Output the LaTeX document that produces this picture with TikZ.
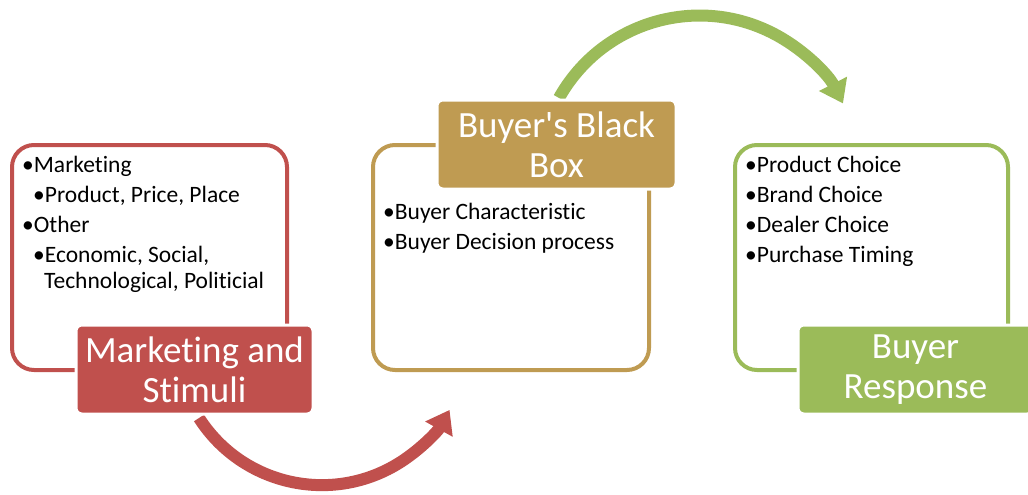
\documentclass[tikz,border=0pt]{standalone}
\usepackage{fontspec}
\setmainfont{Carlito}[Ligatures={CommonOff,TeXOff}]
\usetikzlibrary{arrows.meta}
\definecolor{stimred}{HTML}{C0504D}
\definecolor{boxtan}{HTML}{BF9B52}
\definecolor{respgreen}{HTML}{9BBB59}
\begin{document}
\begin{tikzpicture}[x=1pt,y=-1pt,
  frame/.style={draw=#1, line width=4pt, rounded corners=22pt, inner sep=0pt},
  labelbox/.style={fill=#1, draw=white, line width=3pt, rounded corners=6pt,
    text=white, align=center, inner sep=0pt, minimum height=89pt,
    font=\fontsize{37}{40}\selectfont},
  item/.style={anchor=base west, inner sep=0pt, font=\fontsize{23.5}{26}\selectfont},
  flow/.style={draw=#1, line width=12pt, -{Triangle[width=30pt,length=22pt]}}]
\useasboundingbox (0,0) rectangle (1028,495);

% outline frames
\node[frame=stimred, minimum width=275pt, minimum height=225pt] (mframe) at (149.5,257.5) {};
\node[frame=boxtan, minimum width=276pt, minimum height=225pt] (bframe) at (511,257.5) {};
\node[frame=respgreen, minimum width=273pt, minimum height=225pt] (rframe) at (871.5,257.5) {};

% stimuli list
\node[item] (m1) at (22,172) {•Marketing};
\node[item] (m2) at (33,202) {•Product, Price, Place};
\node[item] (m3) at (22,232) {•Other};
\node[item] (m4) at (33,262) {•Economic, Social,};
\node[item] (m5) at (44,288) {Technological, Politicial};

% black box list
\node[item] (b1) at (383,219) {•Buyer Characteristic};
\node[item] (b2) at (383,249) {•Buyer Decision process};

% response list
\node[item] (r1) at (745,172) {•Product Choice};
\node[item] (r2) at (745,202) {•Brand Choice};
\node[item] (r3) at (745,232) {•Dealer Choice};
\node[item] (r4) at (745,262) {•Purchase Timing};

% curved flow arrows
\coordinate (redstart) at (199,418);
\coordinate (greenstart) at (559,98);
\draw[flow=stimred] (redstart) arc[start angle=212.7, end angle=331, radius=146pt];
\draw[flow=respgreen] (greenstart) arc[start angle=150.8, end angle=27, radius=161pt];

% title boxes
\node[labelbox=stimred, minimum width=237pt] (mlabel) at (194.5,369.5) {Marketing and\\Stimuli};
\node[labelbox=boxtan, minimum width=239pt] (blabel) at (556.5,144.5) {Buyer's Black\\Box};
\node[labelbox=respgreen, minimum width=235pt] (rlabel) at (915.5,369.5) {Buyer\\Response};
\end{tikzpicture}
\end{document}
